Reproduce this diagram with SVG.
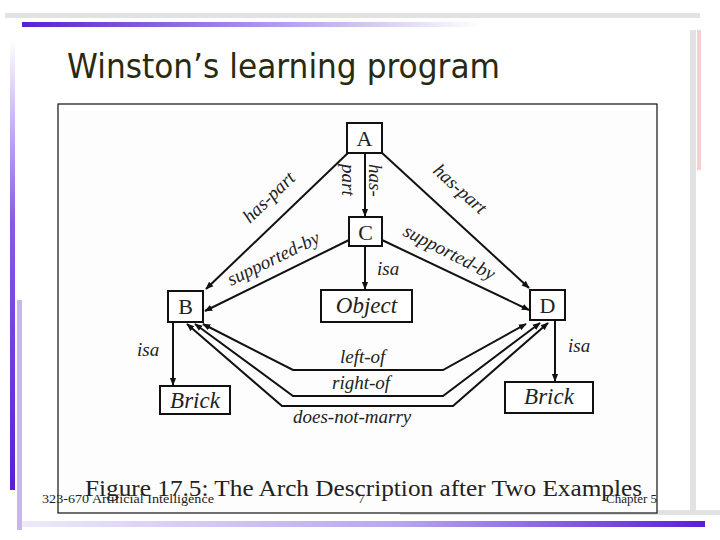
<svg xmlns="http://www.w3.org/2000/svg" width="720" height="540" viewBox="0 0 720 540">
<defs>
<linearGradient id="gt" x1="0" x2="1"><stop offset="0" stop-color="#5a1fd6"/><stop offset="0.6" stop-color="#b9a6ee"/><stop offset="1" stop-color="#ffffff"/></linearGradient>
<linearGradient id="gb" x1="0" x2="1"><stop offset="0" stop-color="#eeeaf9"/><stop offset="0.55" stop-color="#b9a6ee"/><stop offset="1" stop-color="#5a1fd6"/></linearGradient>
<linearGradient id="gl" x1="0" y1="0" x2="0" y2="1"><stop offset="0" stop-color="#ffffff"/><stop offset="0.4" stop-color="#8a5ae6"/><stop offset="1" stop-color="#5a1fd6"/></linearGradient>
<marker id="ah" viewBox="0 0 10 10" refX="9" refY="5" markerWidth="8" markerHeight="8" orient="auto-start-reverse" markerUnits="userSpaceOnUse"><path d="M0,1 L10,5 L0,9 z" fill="#111"/></marker>
<style>
.n{fill:#fff;stroke:#111;stroke-width:2}
.e{fill:none;stroke:#111;stroke-width:2}
.t{font-family:"Liberation Serif",serif;fill:#222}
.i{font-family:"Liberation Serif",serif;font-style:italic;fill:#222;font-size:19px}
.big{font-family:"Liberation Serif",serif;font-style:italic;fill:#222;font-size:23px}
</style>
</defs>
<rect width="720" height="540" fill="#fff"/>
<rect x="5" y="13" width="695" height="5" fill="#e2e2e2"/>
<rect x="22" y="22" width="460" height="5" fill="url(#gt)"/>
<rect x="10" y="40" width="5" height="450" fill="url(#gl)"/>
<rect x="17" y="300" width="5" height="230" fill="#c8b4f0"/>
<rect x="690" y="30" width="6" height="480" fill="#e2e2e2"/>
<rect x="697" y="30" width="4" height="140" fill="#f6d0d0"/>
<rect x="400" y="510" width="320" height="5" fill="#e2e2e2"/>
<rect x="22" y="521" width="683" height="6" fill="url(#gb)"/>
<text x="67" y="78" font-family="DejaVu Sans,sans-serif" font-size="33" fill="#2a2a10" textLength="433" lengthAdjust="spacingAndGlyphs">Winston’s learning program</text>
<rect x="58" y="104" width="599" height="409" fill="#fdfdfd" stroke="#111" stroke-width="1.2"/>
<g id="connectors">
<line class="e" x1="349" y1="152" x2="206" y2="289" marker-end="url(#ah)"/>
<line class="e" x1="365" y1="153" x2="365" y2="216" marker-end="url(#ah)"/>
<line class="e" x1="381" y1="152" x2="529" y2="288" marker-end="url(#ah)"/>
<line class="e" x1="349" y1="240" x2="205" y2="311" marker-end="url(#ah)"/>
<line class="e" x1="382" y1="240" x2="529" y2="310" marker-end="url(#ah)"/>
<line class="e" x1="365" y1="246" x2="365" y2="289" marker-end="url(#ah)"/>
<line class="e" x1="173" y1="322" x2="173" y2="385" marker-end="url(#ah)"/>
<line class="e" x1="555" y1="320" x2="555" y2="381" marker-end="url(#ah)"/>
<polyline class="e" points="203,324 293,370 443,370 526,324" marker-start="url(#ah)" marker-end="url(#ah)"/>
<polyline class="e" points="195,324 293,396 443,396 540,323" marker-start="url(#ah)" marker-end="url(#ah)"/>
<polyline class="e" points="187,324 282,406 453,406 548,323" marker-start="url(#ah)" marker-end="url(#ah)"/>
<text class="i" transform="translate(250,224) rotate(-44)">has-part</text>
<text class="i" transform="translate(342,164) rotate(90)">part</text>
<text class="i" transform="translate(369,164) rotate(90)">has-</text>
<text class="i" transform="translate(432,172) rotate(42)">has-part</text>
<text class="i" transform="translate(231,286) rotate(-26)">supported-by</text>
<text class="i" transform="translate(402,235) rotate(27)">supported-by</text>
<text class="i" x="377" y="275">isa</text>
<text class="i" x="137" y="356">isa</text>
<text class="i" x="568" y="352">isa</text>
<text class="i" x="340" y="363">left-of</text>
<text class="i" x="332" y="389">right-of</text>
<text class="i" x="293" y="423">does-not-marry</text>
</g>
<g id="A"><rect class="n" x="347" y="123" width="35" height="30"/><text class="t" x="364.5" y="146" font-size="22" text-anchor="middle">A</text></g>
<g id="C"><rect class="n" x="349" y="217" width="33" height="29"/><text class="t" x="365.5" y="240" font-size="22" text-anchor="middle">C</text></g>
<g id="B"><rect class="n" x="168" y="291" width="35" height="31"/><text class="t" x="185.5" y="314" font-size="22" text-anchor="middle">B</text></g>
<g id="D"><rect class="n" x="530" y="290" width="35" height="30"/><text class="t" x="547.5" y="313" font-size="22" text-anchor="middle">D</text></g>
<g id="Object"><rect class="n" x="321" y="290" width="91" height="32"/><text class="big" x="366.5" y="313" text-anchor="middle">Object</text></g>
<g id="Brick1"><rect class="n" x="160" y="386" width="70" height="28"/><text class="big" x="195" y="408" text-anchor="middle">Brick</text></g>
<g id="Brick2"><rect class="n" x="505" y="382" width="88" height="31"/><text class="big" x="549" y="404" text-anchor="middle">Brick</text></g>
<text class="t" x="85" y="496" font-size="23" textLength="557" lengthAdjust="spacingAndGlyphs">Figure 17.5: The Arch Description after Two Examples</text>
<text x="42" y="503" font-family="Liberation Serif,serif" font-size="13" fill="#222" textLength="172" lengthAdjust="spacingAndGlyphs">323-670 Artificial Intelligence</text>
<text x="358" y="503" font-family="Liberation Serif,serif" font-size="13" fill="#222">7</text>
<text x="657" y="503" font-family="Liberation Serif,serif" font-size="13" fill="#222" text-anchor="end">Chapter 5</text>
</svg>
